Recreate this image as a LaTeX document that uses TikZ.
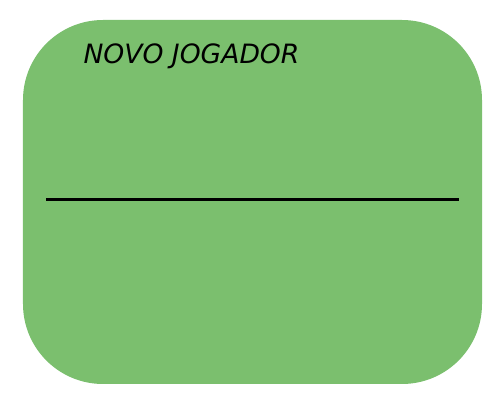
\documentclass[tikz,border=0pt]{standalone}
\usepackage{fontspec}
\setmainfont{DejaVu Sans}
\usepackage{tikz}
\usetikzlibrary{calc}
\definecolor{jogadorverde}{RGB}{123,191,110}

\begin{document}
\begin{tikzpicture}
\useasboundingbox (0cm,0cm) rectangle (15cm,12cm);
\node[fill=jogadorverde, draw=none, rounded corners=2.4cm, minimum width=13.77cm, minimum height=10.92cm, inner sep=0pt] (jogador) at (7.575cm,5.94cm) {};
\node[anchor=base west, inner sep=0pt, font=\itshape\fontsize{22.7}{27}\selectfont] (titulo) at (2.5cm,10.08cm) {NOVO JOGADOR};
\coordinate (divA) at (1.38cm,6.015cm);
\coordinate (divB) at (13.77cm,6.015cm);
\draw[black, line width=2.6pt] (divA) -- (divB);
\end{tikzpicture}
\end{document}
